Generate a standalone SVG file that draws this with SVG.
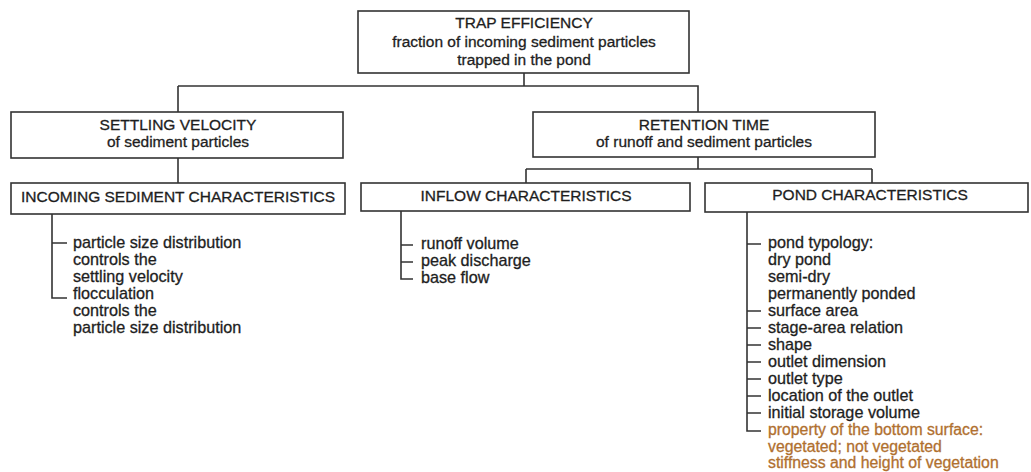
<svg xmlns="http://www.w3.org/2000/svg" width="1031" height="472" viewBox="0 0 1031 472">
<style>
.box{fill:#fff;stroke:#333;stroke-width:1.6}
.ln{fill:none;stroke:#333;stroke-width:1.6}
text{font-family:"Liberation Sans",Arial,sans-serif;fill:#1e1e1e;stroke:#1e1e1e;stroke-width:0.3}
.h{font-size:15.5px;text-anchor:middle}
.l{font-size:16.2px}
.o{fill:#b0702f;stroke:#b0702f;font-size:15.8px}
</style>
<rect width="1031" height="472" fill="#fff"/>
<g id="connectors">
<path class="ln" d="M524 73V86M178 86H698V112M178 86V112"/>
<path class="ln" d="M178 158V183"/>
<path class="ln" d="M698 157V169M526 169H872M526 169V183M872 169V183"/>
<path class="ln" d="M52 214V298H67M52 243H67"/>
<path class="ln" d="M401 211V279H413M401 245H413M401 262H413"/>
<path class="ln" d="M747 212V431H761M747 244H761M747 311H761M747 328H761M747 345H761M747 362H761M747 379H761M747 396H761M747 413H761"/>
</g>
<g id="trap">
<rect class="box" x="358" y="11" width="331" height="62"/>
<text class="h" x="524" y="28">TRAP EFFICIENCY</text>
<text class="h" x="524" y="47">fraction of incoming sediment particles</text>
<text class="h" x="524" y="65">trapped in the pond</text>
</g>
<g id="settling">
<rect class="box" x="11" y="112" width="332" height="46"/>
<text class="h" x="178" y="130">SETTLING VELOCITY</text>
<text class="h" x="178" y="147">of sediment particles</text>
</g>
<g id="retention">
<rect class="box" x="533" y="112" width="342" height="45"/>
<text class="h" x="704" y="130">RETENTION TIME</text>
<text class="h" x="704" y="147">of runoff and sediment particles</text>
</g>
<g id="incoming">
<rect class="box" x="11" y="183" width="334" height="31"/>
<text class="h" x="178" y="202">INCOMING SEDIMENT CHARACTERISTICS</text>
<text class="l" x="73" y="248">particle size distribution</text>
<text class="l" x="73" y="265">controls the</text>
<text class="l" x="73" y="282">settling velocity</text>
<text class="l" x="73" y="299">flocculation</text>
<text class="l" x="73" y="316">controls the</text>
<text class="l" x="73" y="333">particle size distribution</text>
</g>
<g id="inflow">
<rect class="box" x="361" y="183" width="329" height="28"/>
<text class="h" x="526" y="201">INFLOW CHARACTERISTICS</text>
<text class="l" x="421" y="249">runoff volume</text>
<text class="l" x="421" y="266">peak discharge</text>
<text class="l" x="421" y="283">base flow</text>
</g>
<g id="pond">
<rect class="box" x="705" y="183" width="323" height="29"/>
<text class="h" x="870" y="200">POND CHARACTERISTICS</text>
<text class="l" x="768" y="248">pond typology:</text>
<text class="l" x="768" y="265">dry pond</text>
<text class="l" x="768" y="282">semi-dry</text>
<text class="l" x="768" y="299">permanently ponded</text>
<text class="l" x="768" y="316">surface area</text>
<text class="l" x="768" y="333">stage-area relation</text>
<text class="l" x="768" y="350">shape</text>
<text class="l" x="768" y="367">outlet dimension</text>
<text class="l" x="768" y="384">outlet type</text>
<text class="l" x="768" y="401">location of the outlet</text>
<text class="l" x="768" y="418">initial storage volume</text>
<text class="l o" x="768" y="435">property of the bottom surface:</text>
<text class="l o" x="768" y="451.5">vegetated; not vegetated</text>
<text class="l o" x="768" y="468">stiffness and height of vegetation</text>
</g>
</svg>
